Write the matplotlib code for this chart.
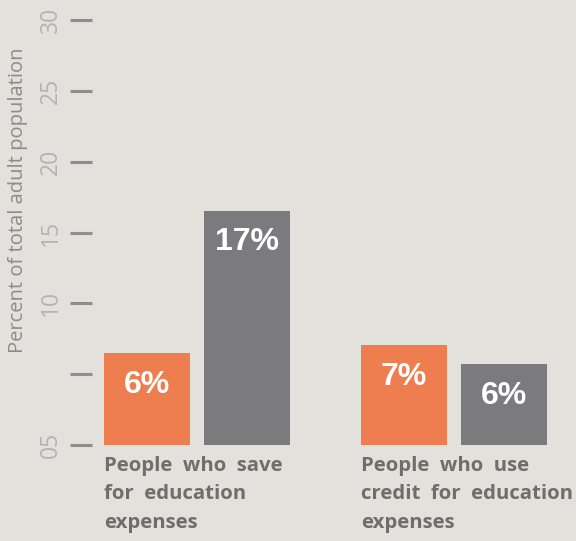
import matplotlib
matplotlib.use("Agg")
import matplotlib.pyplot as plt
import matplotlib.transforms as mtransforms

# 데이터
groups = ["People  who  save\nfor  education\nexpenses",
          "People  who  use\ncredit  for  education\nexpenses"]
orange_vals = [6.5, 7.05]
gray_vals = [16.55, 5.7]
orange_labels = ["6%", "7%"]
gray_labels = ["17%", "6%"]
yticks = [0, 5, 10, 15, 20, 25, 30]
ytick_labels = ["05", "", "10", "15", "20", "25", "30"]

bg = "#e2e1dc"
orange = "#ee7d4f"
gray = "#7b7b7d"

fig = plt.figure(figsize=(5.76, 5.41), dpi=100, facecolor=bg)
ax = fig.add_axes([70/576, (541-445)/541, 506/576, 425/541])
ax.set_facecolor(bg)

w = 0.335
off = 0.195
x = list(range(len(groups)))
b1 = ax.bar([i - off for i in x], orange_vals, width=w, color=orange)
b2 = ax.bar([i + off for i in x], gray_vals, width=w, color=gray)

# 막대 안쪽 값 라벨
for bars, labs in [(b1, orange_labels), (b2, gray_labels)]:
    for r, lab in zip(bars, labs):
        ax.annotate(lab, (r.get_x() + r.get_width()/2, r.get_height()),
                    xytext=(0, -23), textcoords="offset points",
                    ha="center", va="center", color="white",
                    fontsize=23, fontweight="bold", family="Liberation Sans")

ax.set_xlim(-0.494, 1.475)
ax.set_ylim(0, 30)
for s in ax.spines.values():
    s.set_visible(False)
ax.set_xticks([])
ax.set_yticks(yticks)
ax.set_yticklabels(ytick_labels, rotation=90, va="center",
                   color="#b3b3b3", fontsize=16.5, family="Open Sans")
ax.tick_params(axis="y", direction="in", length=15.8, width=2.2,
               color="#8e8e8e", pad=5)

# 카테고리 라벨
trans = mtransforms.blended_transform_factory(ax.transData, ax.transAxes)
for i, g in enumerate(groups):
    ax.text(i - off - w/2, -0.026, g, transform=trans, ha="left", va="top",
            color="#6e6e6e", fontsize=14.7, fontweight="bold", family="Open Sans",
            linespacing=1.55)

fig.text(18/576, 1 - 200/541, "Percent of total adult population", rotation=90,
         ha="center", va="center", color="#8c8c8c", fontsize=14.5, family="Open Sans")

fig.savefig("out.png", dpi=100, facecolor=bg)
